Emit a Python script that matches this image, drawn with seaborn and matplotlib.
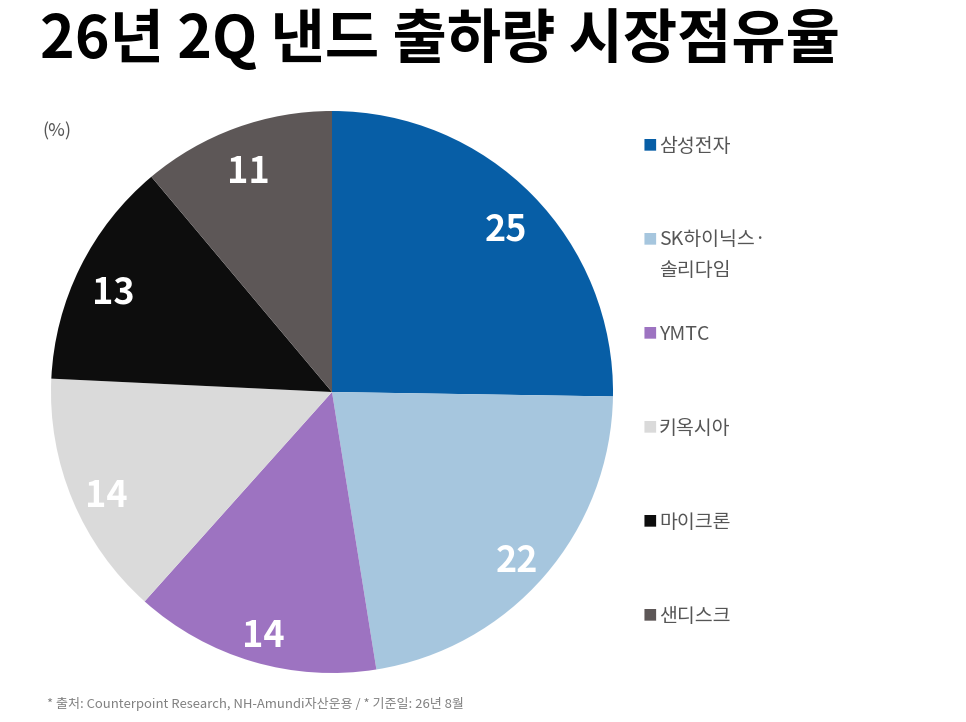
import matplotlib
matplotlib.use('Agg')
import matplotlib.pyplot as plt
import seaborn as sns

# Data
companies = ['삼성전자', 'SK하이닉스·\n솔리다임', 'YMTC', '키옥시아', '마이크론', '샌디스크']
shares = [25, 22, 14, 14, 13, 11]
colors = ['#075ea6', '#a6c6de', '#9d73c1', '#dadada', '#0d0d0d', '#5d5757']

title = '26년 2Q 낸드 출하량 시장점유율'
unit = '(%)'
source = '* 출처: Counterpoint Research, NH-Amundi자산운용 / * 기준일: 26년 8월'

sns.set_theme(style='white')
plt.rcParams['font.family'] = ['Noto Sans CJK KR', 'DejaVu Sans']

W, H = 966, 722
fig = plt.figure(figsize=(W / 100, H / 100), dpi=100)
fig.patch.set_facecolor('white')

# pie centre (332, 392) px, radius 281 px
cx, cy, r = 332, 392, 281
ax = fig.add_axes([(cx - r) / W, (H - cy - r) / H, 2 * r / W, 2 * r / H])

wedges, texts = ax.pie(
    shares,
    colors=sns.color_palette(colors),
    startangle=90,
    counterclock=False,
    labels=[str(v) for v in shares],
    labeldistance=0.87,
    wedgeprops=dict(linewidth=0),
    textprops=dict(color='white', fontsize=26, fontweight='bold'),
)
for t in texts:
    t.set_horizontalalignment('center')
    t.set_verticalalignment('center')
    # CJK font sits high, nudge the numbers down a little
    t.set_y(t.get_position()[1] - 0.035)
ax.set_xlim(-1, 1)
ax.set_ylim(-1, 1)
ax.set_aspect('equal')
ax.axis('off')

fig.text(40 / W, 1 - 40 / H, title, fontsize=42.5, fontweight='heavy',
         color='black', ha='left', va='center')
fig.text(42 / W, 1 - 131 / H, unit, fontsize=13, color='#555555',
         ha='left', va='center')
fig.text(47 / W, 1 - 704 / H, source, fontsize=9.4, color='#808080',
         ha='left', va='center')

# legend
top, step = 146, 94
for i, (name, col) in enumerate(zip(companies, colors)):
    y = 1 - (top + i * step) / H
    fig.text(643 / W, y, '■', fontsize=10.5, color=col, ha='left', va='center')
    for j, ln in enumerate(name.split('\n')):
        fig.text(659 / W, y - j * 31 / H, ln, fontsize=14, color='#555555',
                 ha='left', va='center')

fig.savefig('out.png', dpi=100, facecolor='white')
